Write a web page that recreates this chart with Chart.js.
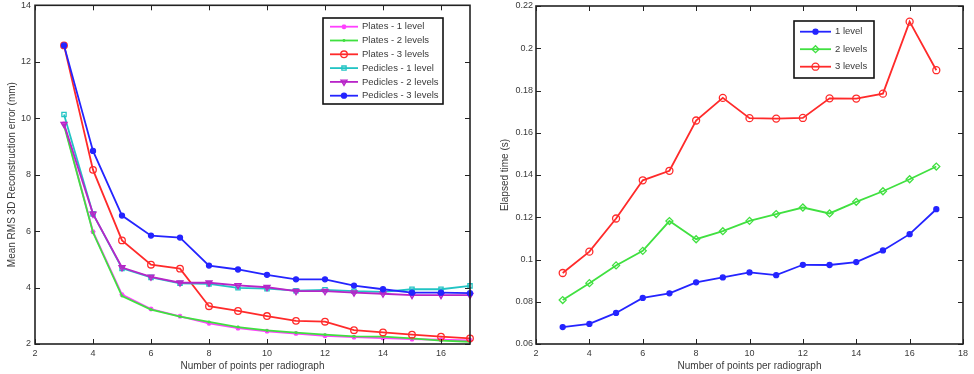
<!DOCTYPE html>
<html>
<head>
<meta charset="utf-8">
<script src="https://cdn.jsdelivr.net/npm/chart.js@4.4.0/dist/chart.umd.min.js"></script>
<style>
  html, body { margin: 0; padding: 0; background: #fff; }
  .pane { position: absolute; top: 0; width: 487px; height: 374px; }
</style>
</head>
<body>
<div class="pane" style="left:0"><canvas id="errChart" width="487" height="374"></canvas></div>
<div class="pane" style="left:487px"><canvas id="timeChart" width="487" height="374"></canvas></div>
<script>
// number of points per radiograph (shared x values)
const pointsPerRadiograph = [3, 4, 5, 6, 7, 8, 9, 10, 11, 12, 13, 14, 15, 16, 17];

// left panel - mean RMS 3D reconstruction error (mm)
const platesOne     = [9.80, 5.98, 3.75, 3.24, 2.98, 2.73, 2.56, 2.45, 2.37, 2.29, 2.24, 2.21, 2.17, 2.15, 2.13];
const platesTwo     = [9.75, 5.95, 3.70, 3.22, 2.97, 2.78, 2.60, 2.48, 2.40, 2.33, 2.27, 2.26, 2.20, 2.12, 2.08];
const platesThree   = [12.58, 8.17, 5.67, 4.81, 4.67, 3.34, 3.17, 2.99, 2.82, 2.79, 2.49, 2.41, 2.33, 2.26, 2.20];
const pediclesOne   = [10.13, 6.61, 4.68, 4.36, 4.15, 4.13, 3.99, 3.96, 3.89, 3.92, 3.87, 3.85, 3.94, 3.94, 4.06];
const pediclesTwo   = [9.79, 6.61, 4.71, 4.38, 4.17, 4.17, 4.08, 4.01, 3.87, 3.87, 3.82, 3.78, 3.73, 3.73, 3.73];
const pediclesThree = [12.58, 8.84, 6.55, 5.84, 5.77, 4.78, 4.64, 4.45, 4.29, 4.29, 4.07, 3.94, 3.82, 3.82, 3.80];

// right panel - elapsed time (s)
const timeOne   = [0.0680, 0.0695, 0.0747, 0.0818, 0.0840, 0.0892, 0.0915, 0.0939, 0.0926, 0.0975, 0.0974, 0.0988, 0.1043, 0.1120, 0.1238];
const timeTwo   = [0.0808, 0.0888, 0.0972, 0.1041, 0.1182, 0.1096, 0.1134, 0.1183, 0.1215, 0.1246, 0.1218, 0.1273, 0.1323, 0.1380, 0.1440];
const timeThree = [0.0936, 0.1037, 0.1194, 0.1375, 0.1420, 0.1658, 0.1765, 0.1669, 0.1667, 0.1670, 0.1763, 0.1762, 0.1785, 0.2126, 0.1896];

// tick labels
const errXTicks  = [2, 4, 6, 8, 10, 12, 14, 16];
const errYTicks  = [2, 4, 6, 8, 10, 12, 14];
const timeXTicks = [2, 4, 6, 8, 10, 12, 14, 16, 18];
const timeYTicks = [0.06, 0.08, 0.1, 0.12, 0.14, 0.16, 0.18, 0.2, 0.22];

const FONT = '"Liberation Sans", Arial, sans-serif';
Chart.defaults.font.family = FONT;
Chart.defaults.font.size = 9;
Chart.defaults.color = "#3a3a3a";

const toPoints = (ys) => ys.map((y, i) => ({ x: pointsPerRadiograph[i], y }));

function series(label, ys, color, style, extra) {
  return Object.assign({
    label,
    data: toPoints(ys),
    borderColor: color,
    backgroundColor: color,
    borderWidth: 1.8,
    pointStyle: style,
    pointRadius: 3,
    pointBorderWidth: 1.3,
    pointBorderColor: color,
    pointBackgroundColor: "rgba(255,255,255,0)",
    tension: 0,
    clip: false,
  }, extra || {});
}

// matlab like box with inward ticks on all sides
const matlabFrame = {
  id: "matlabFrame",
  afterDatasetsDraw(chart) {
    const { ctx, chartArea: a, scales } = chart;
    const len = 5;
    ctx.save();
    ctx.strokeStyle = "#222";
    ctx.lineWidth = 1;
    ctx.beginPath();
    scales.x.ticks.forEach((t) => {
      const px = Math.round(scales.x.getPixelForValue(t.value)) + 0.5;
      ctx.moveTo(px, a.bottom); ctx.lineTo(px, a.bottom - len);
      ctx.moveTo(px, a.top); ctx.lineTo(px, a.top + len);
    });
    scales.y.ticks.forEach((t) => {
      const py = Math.round(scales.y.getPixelForValue(t.value)) + 0.5;
      ctx.moveTo(a.left, py); ctx.lineTo(a.left + len, py);
      ctx.moveTo(a.right, py); ctx.lineTo(a.right - len, py);
    });
    ctx.stroke();
    ctx.lineWidth = 1.6;
    ctx.strokeRect(a.left, a.top, a.right - a.left, a.bottom - a.top);
    ctx.restore();
  },
};

// legend box drawn at a fixed spot, like the matlab one
const boxLegend = {
  id: "boxLegend",
  afterDraw(chart, args, opts) {
    const { ctx } = chart;
    ctx.save();
    ctx.fillStyle = "#fff";
    ctx.fillRect(opts.x, opts.y, opts.w, opts.h);
    ctx.strokeStyle = "#111";
    ctx.lineWidth = 1.6;
    ctx.strokeRect(opts.x, opts.y, opts.w, opts.h);
    chart.data.datasets.forEach((ds, i) => {
      const ry = opts.firstRow + i * opts.rowH;
      ctx.strokeStyle = ds.borderColor;
      ctx.lineWidth = ds.borderWidth;
      ctx.beginPath();
      ctx.moveTo(opts.lineX0, ry);
      ctx.lineTo(opts.lineX1, ry);
      ctx.stroke();
      ctx.fillStyle = ds.pointBackgroundColor;
      ctx.lineWidth = ds.pointBorderWidth;
      Chart.helpers.drawPoint(ctx, {
        pointStyle: ds.pointStyle,
        radius: ds.pointRadius,
        rotation: ds.pointRotation || 0,
        borderWidth: ds.pointBorderWidth,
      }, (opts.lineX0 + opts.lineX1) / 2, ry);
      ctx.fillStyle = "#3a3a3a";
      ctx.font = "9.5px " + FONT;
      ctx.textBaseline = "middle";
      ctx.fillText(ds.label, opts.textX, ry);
    });
    ctx.restore();
  },
};

function fixSize(prop, size) {
  return (s) => {
    s[prop] = size;
    s.paddingTop = 0; s.paddingBottom = 0; s.paddingLeft = 0; s.paddingRight = 0;
  };
}

function axes(xTicks, yTicks, xMax, yMin, yMax, yTitle, yWidth, yTitlePad, yTickPad, fmt) {
  return {
    x: {
      type: "linear", min: 2, max: xMax,
      grid: { display: false, drawTicks: false },
      border: { display: false },
      ticks: { padding: 4, includeBounds: false, autoSkip: false, maxRotation: 0 },
      afterBuildTicks: (s) => { s.ticks = xTicks.map((v) => ({ value: v })); },
      afterFit: fixSize("height", 30),
      title: { display: true, text: "Number of points per radiograph", font: { size: 10 }, padding: { top: 0, bottom: 2 } },
    },
    y: {
      type: "linear", min: yMin, max: yMax,
      grid: { display: false, drawTicks: false },
      border: { display: false },
      ticks: { padding: yTickPad, includeBounds: false, autoSkip: false, callback: fmt },
      afterBuildTicks: (s) => { s.ticks = yTicks.map((v) => ({ value: v })); },
      afterFit: fixSize("width", yWidth),
      title: { display: true, text: yTitle, font: { size: 10 }, padding: { top: yTitlePad, bottom: 0 } },
    },
  };
}

const n = 6;
new Chart(document.getElementById("errChart"), {
  type: "line",
  data: {
    datasets: [
      series("Plates - 1 level", platesOne, "#ff40ff", "star", { pointRadius: 2.5, order: n - 0 }),
      series("Plates - 2 levels", platesTwo, "#40e040", "circle", { pointRadius: 0.8, order: n - 1 }),
      series("Plates - 3 levels", platesThree, "#ff2a2a", "circle", { pointRadius: 3.3, order: n - 2 }),
      series("Pedicles - 1 level", pediclesOne, "#22c4c4", "rect", { pointRadius: 3, order: n - 3 }),
      series("Pedicles - 2 levels", pediclesTwo, "#b824c8", "triangle", { pointRadius: 3.5, pointRotation: 180, pointBackgroundColor: "rgba(184,36,200,0.5)", order: n - 4 }),
      series("Pedicles - 3 levels", pediclesThree, "#2424ff", "circle", { pointRadius: 2.5, pointBackgroundColor: "#2424ff", order: n - 5 }),
    ],
  },
  options: {
    responsive: false,
    animation: false,
    layout: { padding: { left: 0, right: 17, top: 1, bottom: 0 } },
    plugins: {
      legend: { display: false },
      tooltip: { enabled: false },
      boxLegend: { x: 323, y: 18, w: 120, h: 86, firstRow: 26.7, rowH: 13.8, lineX0: 330, lineX1: 358, textX: 362 },
    },
    scales: axes(errXTicks, errYTicks, 17, 2, 14, "Mean RMS 3D Reconstruction error (mm)", 35, 6.5, 4, (v) => String(v)),
  },
  plugins: [matlabFrame, boxLegend],
});

new Chart(document.getElementById("timeChart"), {
  type: "line",
  data: {
    datasets: [
      series("1 level", timeOne, "#2424ff", "circle", { pointRadius: 2.5, pointBackgroundColor: "#2424ff", order: 3 }),
      series("2 levels", timeTwo, "#40e040", "rectRot", { pointRadius: 3.5, order: 2 }),
      series("3 levels", timeThree, "#ff2a2a", "circle", { pointRadius: 3.5, order: 1 }),
    ],
  },
  options: {
    responsive: false,
    animation: false,
    layout: { padding: { left: 0, right: 11, top: 6, bottom: 0 } },
    plugins: {
      legend: { display: false },
      tooltip: { enabled: false },
      boxLegend: { x: 307, y: 21, w: 80, h: 57, firstRow: 31.7, rowH: 17.5, lineX0: 313, lineX1: 344, textX: 348 },
    },
    scales: axes(timeXTicks, timeYTicks, 18, 0.06, 0.22, "Elapsed time (s)", 49, 12.5, 3, (v) => String(+v.toFixed(2))),
  },
  plugins: [matlabFrame, boxLegend],
});
</script>
</body>
</html>
